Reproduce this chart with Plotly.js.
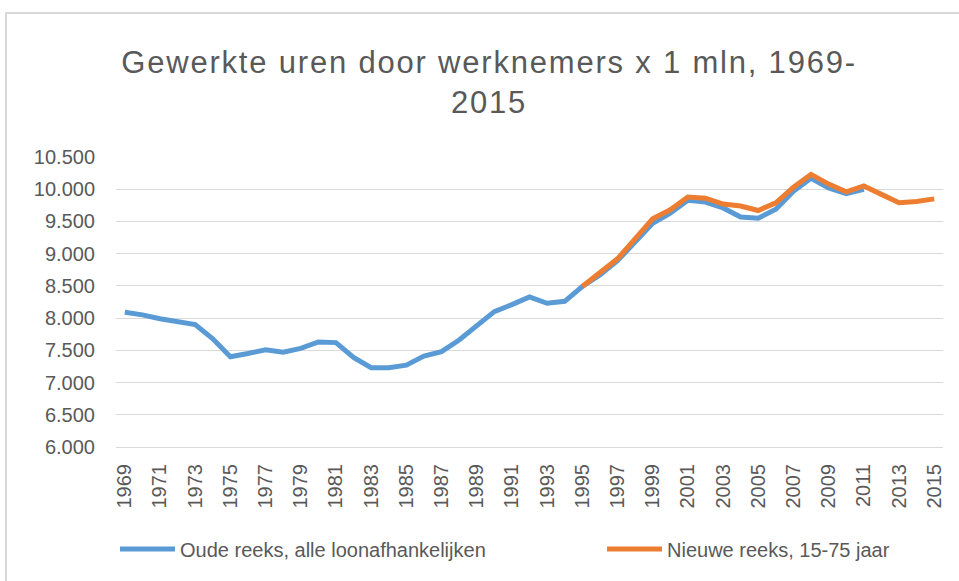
<!DOCTYPE html>
<html>
<head>
<meta charset="utf-8">
<script src="https://cdn.plot.ly/plotly-3.0.1.min.js"></script>
<style>
  html, body { margin: 0; padding: 0; background: #ffffff; }
  #chart { position: absolute; left: 0; top: 0; width: 959px; height: 581px; }
  #frame { position: absolute; left: 5px; top: 12px; width: 1000px; height: 1000px;
           border-left: 2px solid #d9d9d9; border-top: 2px solid #d9d9d9; pointer-events: none; }
  .gtitle { letter-spacing: 1.8px; }
</style>
</head>
<body>
<div id="chart"></div>
<div id="frame"></div>
<script>
// Years
const yearsOld = [1969,1970,1971,1972,1973,1974,1975,1976,1977,1978,1979,1980,1981,1982,1983,1984,1985,1986,1987,1988,1989,1990,1991,1992,1993,1994,1995,1996,1997,1998,1999,2000,2001,2002,2003,2004,2005,2006,2007,2008,2009,2010,2011];
const yearsNew = [1995,1996,1997,1998,1999,2000,2001,2002,2003,2004,2005,2006,2007,2008,2009,2010,2011,2012,2013,2014,2015];

// Oude reeks, alle loonafhankelijken (x 1 mln uren)
const oudeReeks = [8090,8050,7990,7940,7900,7680,7400,7450,7510,7470,7530,7630,7620,7390,7230,7230,7270,7410,7480,7660,7880,8100,8210,8330,8230,8260,8490,8670,8890,9190,9470,9630,9830,9800,9710,9570,9550,9690,9970,10170,10020,9930,10000];

// Nieuwe reeks, 15-75 jaar
const nieuweReeks = [8490,8700,8920,9230,9540,9680,9880,9860,9770,9740,9670,9790,10030,10230,10080,9960,10050,9920,9790,9810,9850];

const seriesNames = ['Oude reeks, alle loonafhankelijken', 'Nieuwe reeks, 15-75 jaar'];
const titleText = 'Gewerkte uren door werknemers x 1 mln, 1969-<br>2015';
const yTicks = [6000,6500,7000,7500,8000,8500,9000,9500,10000,10500];

const font = 'Liberation Sans, Arial, sans-serif';
const grey = '#595959';
const sampleLen = 55;

const traces = [
  { x: yearsOld, y: oudeReeks, name: seriesNames[0], type: 'scatter', mode: 'lines',
    line: { color: '#5B9BD5', width: 5 }, legend: 'legend' },
  { x: yearsNew, y: nieuweReeks, name: seriesNames[1], type: 'scatter', mode: 'lines',
    line: { color: '#ED7D31', width: 5 }, legend: 'legend2' }
];

const legendBase = {
  orientation: 'h', xref: 'container', xanchor: 'left',
  yref: 'container', y: 0.055, yanchor: 'middle',
  font: { family: font, size: 20, color: grey }, itemwidth: sampleLen,
  bgcolor: 'rgba(0,0,0,0)', borderwidth: 0
};

const layout = {
  width: 959, height: 581,
  margin: { l: 116, r: 16, t: 157, b: 134 },
  paper_bgcolor: '#ffffff', plot_bgcolor: '#ffffff',
  separators: ',.',
  font: { family: font, color: grey, size: 20 },
  title: { text: titleText, font: { family: font, size: 31, color: grey },
           xref: 'container', x: 0.51, xanchor: 'center',
           yref: 'container', y: 0.875, yanchor: 'top' },
  xaxis: {
    range: [1968.5, 2015.5], tickmode: 'linear', tick0: 1969, dtick: 2,
    tickangle: -90, showgrid: false, zeroline: false,
    showline: true, linecolor: '#d9d9d9', linewidth: 1,
    ticks: '', ticklabelstandoff: 8,
    tickfont: { family: font, size: 20, color: grey }
  },
  yaxis: {
    range: [6000, 10500], tickvals: yTicks, tickformat: ',d',
    showgrid: true, gridcolor: '#d9d9d9', gridwidth: 1, zeroline: false,
    showline: false, ticks: '', ticklabelstandoff: 20,
    tickfont: { family: font, size: 20, color: grey }
  },
  showlegend: true,
  legend: Object.assign({}, legendBase, { x: 115 / 959 }),
  legend2: Object.assign({}, legendBase, { x: 602 / 959 })
};

Plotly.newPlot('chart', traces, layout, { displayModeBar: false, staticPlot: true }).then(function (gd) {
  // lengthen legend line samples to match the reference style
  gd.querySelectorAll('.legendlines path').forEach(function (p) {
    p.setAttribute('d', 'M5,0h' + sampleLen);
  });
});
</script>
</body>
</html>
